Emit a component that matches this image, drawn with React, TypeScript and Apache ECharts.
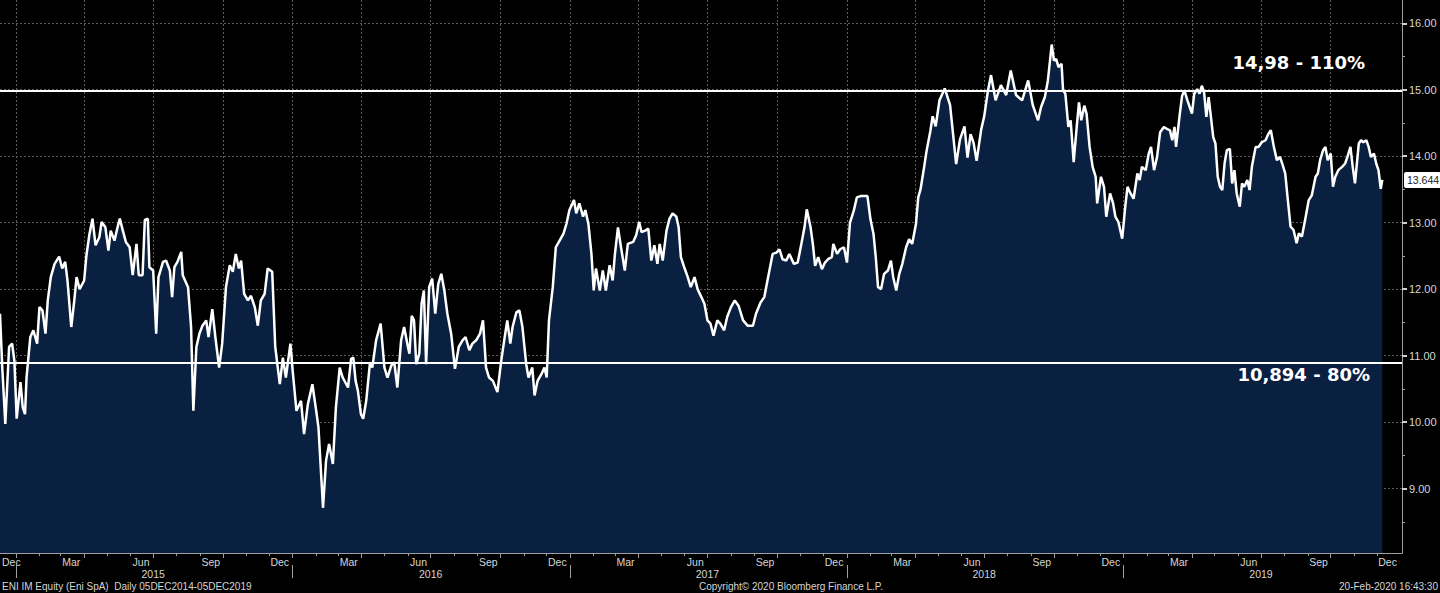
import React, { useEffect, useRef } from 'react';
import * as echarts from 'echarts';

// ---- Data ----
const px2014: [string, number][] = [
  ['2014-12-11', 11.63], ['2014-12-14', 10.82], ['2014-12-18', 9.97], ['2014-12-23', 11.13],
  ['2014-12-27', 11.18], ['2014-12-30', 10.92],
];
const px2015: [string, number][] = [
  ['2015-01-02', 10.05], ['2015-01-07', 10.6], ['2015-01-10', 10.22], ['2015-01-13', 10.12],
  ['2015-01-15', 10.67], ['2015-01-20', 11.28], ['2015-01-24', 11.38], ['2015-01-29', 11.18],
  ['2015-02-01', 11.73], ['2015-02-05', 11.68], ['2015-02-09', 11.33], ['2015-02-12', 11.83],
  ['2015-02-16', 12.18], ['2015-02-21', 12.38], ['2015-02-27', 12.49], ['2015-03-03', 12.31],
  ['2015-03-07', 12.41], ['2015-03-10', 12.13], ['2015-03-15', 11.43], ['2015-03-19', 11.83],
  ['2015-03-22', 12.18], ['2015-03-26', 12.0], ['2015-04-01', 12.13], ['2015-04-04', 12.51],
  ['2015-04-08', 12.83], ['2015-04-12', 13.06], ['2015-04-16', 12.66], ['2015-04-21', 12.78],
  ['2015-04-24', 13.01], ['2015-04-29', 12.93], ['2015-05-03', 12.58], ['2015-05-06', 12.88],
  ['2015-05-11', 12.73], ['2015-05-15', 12.93], ['2015-05-18', 13.06], ['2015-05-22', 12.88],
  ['2015-05-26', 12.71], ['2015-05-31', 12.63], ['2015-06-04', 12.21], ['2015-06-09', 12.68],
  ['2015-06-12', 12.21], ['2015-06-17', 12.21], ['2015-06-20', 13.04], ['2015-06-24', 13.06],
  ['2015-06-26', 12.33], ['2015-07-01', 12.28], ['2015-07-05', 11.33], ['2015-07-08', 12.18],
  ['2015-07-14', 12.41], ['2015-07-18', 12.43], ['2015-07-23', 12.28], ['2015-07-26', 11.88],
  ['2015-07-29', 12.33], ['2015-08-02', 12.41], ['2015-08-07', 12.56], ['2015-08-09', 12.21],
  ['2015-08-16', 12.03], ['2015-08-20', 11.43], ['2015-08-23', 10.17], ['2015-08-27', 11.13],
  ['2015-08-31', 11.33], ['2015-09-04', 11.45], ['2015-09-09', 11.53], ['2015-09-12', 11.28],
  ['2015-09-17', 11.7], ['2015-09-21', 11.28], ['2015-09-26', 10.82], ['2015-09-30', 11.18],
  ['2015-10-05', 12.03], ['2015-10-10', 12.36], ['2015-10-14', 12.26], ['2015-10-18', 12.53],
  ['2015-10-22', 12.31], ['2015-10-25', 12.43], ['2015-10-29', 11.93], ['2015-11-03', 11.83],
  ['2015-11-07', 11.9], ['2015-11-12', 11.73], ['2015-11-16', 11.45], ['2015-11-20', 11.83],
  ['2015-11-25', 11.93], ['2015-11-29', 12.31], ['2015-12-05', 12.26], ['2015-12-09', 11.13],
  ['2015-12-15', 10.57], ['2015-12-19', 10.97], ['2015-12-23', 10.67], ['2015-12-29', 11.18],
];
const px2016: [string, number][] = [
  ['2016-01-01', 10.77], ['2016-01-06', 10.17], ['2016-01-12', 10.32], ['2016-01-16', 9.82],
  ['2016-01-21', 10.27], ['2016-01-27', 10.57], ['2016-02-01', 10.17], ['2016-02-04', 9.92],
  ['2016-02-10', 8.71], ['2016-02-14', 9.42], ['2016-02-18', 9.67], ['2016-02-23', 9.37],
  ['2016-02-27', 10.22], ['2016-03-03', 10.82], ['2016-03-07', 10.67], ['2016-03-14', 10.52],
  ['2016-03-18', 10.95], ['2016-03-21', 10.97], ['2016-03-24', 10.62], ['2016-03-27', 10.47],
  ['2016-03-31', 10.12], ['2016-04-03', 10.05], ['2016-04-07', 10.32], ['2016-04-12', 10.9],
  ['2016-04-15', 10.82], ['2016-04-20', 11.23], ['2016-04-26', 11.48], ['2016-05-01', 10.82],
  ['2016-05-05', 10.67], ['2016-05-10', 10.85], ['2016-05-14', 10.9], ['2016-05-18', 10.52],
  ['2016-05-23', 11.23], ['2016-05-27', 11.43], ['2016-06-01', 11.13], ['2016-06-03', 11.03],
  ['2016-06-06', 11.6], ['2016-06-09', 11.53], ['2016-06-12', 10.87], ['2016-06-16', 11.03],
  ['2016-06-19', 11.78], ['2016-06-22', 11.98], ['2016-06-25', 10.87], ['2016-06-29', 12.03],
  ['2016-07-03', 12.16], ['2016-07-07', 11.63], ['2016-07-11', 12.08], ['2016-07-15', 12.23],
  ['2016-07-19', 11.98], ['2016-07-23', 11.63], ['2016-07-28', 11.33], ['2016-08-02', 10.8],
  ['2016-08-07', 11.13], ['2016-08-12', 11.23], ['2016-08-16', 11.28], ['2016-08-21', 11.08],
  ['2016-08-25', 11.18], ['2016-08-30', 11.23], ['2016-09-04', 11.33], ['2016-09-08', 11.53],
  ['2016-09-12', 10.82], ['2016-09-16', 10.67], ['2016-09-21', 10.62], ['2016-09-27', 10.45],
  ['2016-10-02', 10.92], ['2016-10-06', 11.23], ['2016-10-10', 11.53], ['2016-10-14', 11.18],
  ['2016-10-17', 11.43], ['2016-10-22', 11.65], ['2016-10-26', 11.68], ['2016-10-30', 11.43],
  ['2016-11-04', 10.87], ['2016-11-07', 10.67], ['2016-11-12', 10.82], ['2016-11-15', 10.4],
  ['2016-11-19', 10.62], ['2016-11-24', 10.72], ['2016-11-28', 10.82], ['2016-12-01', 10.67],
  ['2016-12-04', 11.53], ['2016-12-09', 12.03], ['2016-12-13', 12.63], ['2016-12-18', 12.73],
  ['2016-12-23', 12.83], ['2016-12-27', 12.98], ['2016-12-31', 13.19],
];
const px2017: [string, number][] = [
  ['2017-01-06', 13.34], ['2017-01-09', 13.14], ['2017-01-13', 13.29], ['2017-01-18', 13.09],
  ['2017-01-21', 13.19], ['2017-01-25', 12.98], ['2017-01-29', 12.53], ['2017-02-01', 11.98],
  ['2017-02-04', 12.31], ['2017-02-09', 11.98], ['2017-02-13', 12.28], ['2017-02-17', 11.98],
  ['2017-02-22', 12.36], ['2017-02-26', 12.13], ['2017-03-01', 12.53], ['2017-03-05', 12.93],
  ['2017-03-09', 12.63], ['2017-03-14', 12.28], ['2017-03-18', 12.68], ['2017-03-25', 12.71],
  ['2017-03-29', 12.81], ['2017-04-02', 13.01], ['2017-04-05', 12.86], ['2017-04-10', 12.88],
  ['2017-04-14', 12.91], ['2017-04-18', 12.43], ['2017-04-22', 12.66], ['2017-04-26', 12.38],
  ['2017-04-29', 12.68], ['2017-05-03', 12.43], ['2017-05-08', 12.88], ['2017-05-12', 13.06],
  ['2017-05-16', 13.14], ['2017-05-21', 13.09], ['2017-05-24', 12.93], ['2017-05-27', 12.48],
  ['2017-06-01', 12.31], ['2017-06-05', 12.18], ['2017-06-09', 12.03], ['2017-06-14', 12.18],
  ['2017-06-18', 12.0], ['2017-06-23', 11.88], ['2017-06-27', 11.78], ['2017-07-01', 11.53],
  ['2017-07-05', 11.48], ['2017-07-09', 11.3], ['2017-07-14', 11.53], ['2017-07-18', 11.48],
  ['2017-07-23', 11.38], ['2017-07-27', 11.58], ['2017-08-01', 11.73], ['2017-08-06', 11.83],
  ['2017-08-11', 11.75], ['2017-08-17', 11.53], ['2017-08-23', 11.45], ['2017-08-30', 11.45],
  ['2017-09-03', 11.63], ['2017-09-09', 11.8], ['2017-09-14', 11.88], ['2017-09-19', 12.18],
  ['2017-09-25', 12.53], ['2017-09-30', 12.55], ['2017-10-04', 12.6], ['2017-10-08', 12.45],
  ['2017-10-13', 12.43], ['2017-10-17', 12.53], ['2017-10-23', 12.38], ['2017-10-28', 12.4],
  ['2017-11-01', 12.63], ['2017-11-06', 12.93], ['2017-11-09', 13.2], ['2017-11-14', 12.93],
  ['2017-11-17', 12.68], ['2017-11-20', 12.35], ['2017-11-24', 12.48], ['2017-11-29', 12.3],
  ['2017-12-03', 12.4], ['2017-12-07', 12.45], ['2017-12-12', 12.48], ['2017-12-14', 12.68],
  ['2017-12-19', 12.53], ['2017-12-23', 12.6], ['2017-12-28', 12.63],
];
const px2018: [string, number][] = [
  ['2018-01-01', 12.4], ['2018-01-05', 13.0], ['2018-01-10', 13.18], ['2018-01-14', 13.38],
  ['2018-01-19', 13.4], ['2018-01-24', 13.4], ['2018-01-28', 13.4], ['2018-02-01', 13.05],
  ['2018-02-05', 12.83], ['2018-02-08', 12.48], ['2018-02-11', 12.03], ['2018-02-15', 12.0],
  ['2018-02-19', 12.23], ['2018-02-24', 12.28], ['2018-02-28', 12.43], ['2018-03-03', 12.18],
  ['2018-03-07', 11.98], ['2018-03-11', 12.23], ['2018-03-15', 12.38], ['2018-03-20', 12.63],
  ['2018-03-24', 12.75], ['2018-03-28', 12.68], ['2018-04-02', 12.98], ['2018-04-05', 13.38],
  ['2018-04-08', 13.5], ['2018-04-12', 13.78], ['2018-04-16', 14.08], ['2018-04-21', 14.38],
  ['2018-04-24', 14.6], ['2018-04-28', 14.45], ['2018-05-03', 14.84], ['2018-05-10', 15.02],
  ['2018-05-17', 14.77], ['2018-05-25', 13.88], ['2018-05-30', 14.25], ['2018-06-05', 14.45],
  ['2018-06-09', 13.98], ['2018-06-13', 14.33], ['2018-06-17', 14.2], ['2018-06-21', 13.93],
  ['2018-06-27', 14.4], ['2018-07-01', 14.6], ['2018-07-06', 14.99], ['2018-07-10', 15.22],
  ['2018-07-16', 14.84], ['2018-07-23', 15.07], ['2018-07-30', 14.92], ['2018-08-05', 15.29],
  ['2018-08-12', 14.92], ['2018-08-20', 14.84], ['2018-08-28', 15.14], ['2018-09-03', 14.77],
  ['2018-09-10', 14.54], ['2018-09-14', 14.74], ['2018-09-19', 14.89], ['2018-09-23', 15.14],
  ['2018-09-28', 15.68], ['2018-10-01', 15.44], ['2018-10-04', 15.46], ['2018-10-07', 15.34],
  ['2018-10-11', 15.39], ['2018-10-13', 14.99], ['2018-10-16', 14.94], ['2018-10-20', 14.44],
  ['2018-10-23', 14.54], ['2018-10-27', 13.91], ['2018-10-31', 14.44], ['2018-11-03', 14.81],
  ['2018-11-06', 14.54], ['2018-11-10', 14.76], ['2018-11-13', 14.64], ['2018-11-17', 14.14],
  ['2018-11-21', 13.84], ['2018-11-25', 13.69], ['2018-11-27', 13.29], ['2018-12-02', 13.69],
  ['2018-12-06', 13.54], ['2018-12-09', 13.09], ['2018-12-14', 13.44], ['2018-12-18', 13.29],
  ['2018-12-21', 13.09], ['2018-12-25', 13.01], ['2018-12-30', 12.76],
];
const px2019: [string, number][] = [
  ['2019-01-03', 13.24], ['2019-01-06', 13.54], ['2019-01-10', 13.44], ['2019-01-14', 13.36],
  ['2019-01-19', 13.74], ['2019-01-22', 13.64], ['2019-01-25', 13.84], ['2019-01-30', 13.79],
  ['2019-02-03', 14.04], ['2019-02-06', 14.14], ['2019-02-10', 13.79], ['2019-02-14', 13.99],
  ['2019-02-18', 14.36], ['2019-02-23', 14.44], ['2019-02-27', 14.41], ['2019-03-03', 14.39],
  ['2019-03-06', 14.24], ['2019-03-09', 14.44], ['2019-03-11', 14.14], ['2019-03-16', 14.64],
  ['2019-03-19', 14.91], ['2019-03-22', 14.99], ['2019-03-26', 14.84], ['2019-03-29', 14.74],
  ['2019-04-01', 14.64], ['2019-04-04', 14.94], ['2019-04-08', 15.01], ['2019-04-11', 14.94],
  ['2019-04-14', 15.06], ['2019-04-17', 14.96], ['2019-04-20', 14.59], ['2019-04-23', 14.89],
  ['2019-04-26', 14.59], ['2019-04-29', 14.29], ['2019-05-02', 14.19], ['2019-05-05', 13.69],
  ['2019-05-08', 13.54], ['2019-05-11', 13.49], ['2019-05-14', 13.89], ['2019-05-17', 14.09],
  ['2019-05-21', 14.11], ['2019-05-24', 13.59], ['2019-05-27', 13.79], ['2019-05-30', 13.44],
  ['2019-06-03', 13.24], ['2019-06-06', 13.59], ['2019-06-09', 13.54], ['2019-06-13', 13.64],
  ['2019-06-16', 13.49], ['2019-06-19', 13.84], ['2019-06-24', 14.14], ['2019-06-28', 14.14],
  ['2019-07-02', 14.21], ['2019-07-07', 14.24], ['2019-07-11', 14.34], ['2019-07-14', 14.39],
  ['2019-07-18', 14.14], ['2019-07-22', 13.94], ['2019-07-26', 13.99], ['2019-07-29', 13.89],
  ['2019-08-02', 13.74], ['2019-08-05', 13.39], ['2019-08-09', 12.94], ['2019-08-13', 12.89],
  ['2019-08-17', 12.69], ['2019-08-20', 12.84], ['2019-08-24', 12.79], ['2019-08-29', 13.09],
  ['2019-09-02', 13.34], ['2019-09-06', 13.41], ['2019-09-11', 13.69], ['2019-09-14', 13.74],
  ['2019-09-17', 13.94], ['2019-09-21', 14.09], ['2019-09-24', 14.14], ['2019-09-27', 13.94],
  ['2019-10-01', 14.04], ['2019-10-04', 13.54], ['2019-10-07', 13.69], ['2019-10-11', 13.79],
  ['2019-10-16', 13.84], ['2019-10-20', 13.89], ['2019-10-23', 13.99], ['2019-10-27', 14.14],
  ['2019-10-30', 13.84], ['2019-11-02', 13.59], ['2019-11-07', 14.19], ['2019-11-10', 14.24],
  ['2019-11-13', 14.21], ['2019-11-17', 14.24], ['2019-11-20', 14.14], ['2019-11-23', 13.99],
  ['2019-11-27', 14.04], ['2019-11-30', 13.89], ['2019-12-03', 13.79], ['2019-12-06', 13.51],
  ['2019-12-08', 13.644],
];

const upperLevel = 14.98;
const upperText = '14,98 - 110%';
const lowerLevel = 10.894;
const lowerText = '10,894 - 80%';
const lastPrice = 13.644;

const xMin = '2014-12-11';
const xMax = '2020-01-03';
const yMin = 8.03;
const yMax = 16.35;

const yTicks = [9, 10, 11, 12, 13, 14, 15, 16];
const yMinorTicks = [8.5, 9.5, 10.5, 11.5, 12.5, 13.5, 14.5, 15.5];

const quarterTicks = [
  '2015-01-01', '2015-04-01', '2015-07-01', '2015-10-01',
  '2016-01-01', '2016-04-01', '2016-07-01', '2016-10-01',
  '2017-01-01', '2017-04-01', '2017-07-01', '2017-10-01',
  '2018-01-01', '2018-04-01', '2018-07-01', '2018-10-01',
  '2019-01-01', '2019-04-01', '2019-07-01', '2019-10-01',
];
const monthLabelDates = [
  '2014-12-26',
  '2015-03-15', '2015-06-15', '2015-09-15', '2015-12-15',
  '2016-03-15', '2016-06-15', '2016-09-15', '2016-12-15',
  '2017-03-15', '2017-06-15', '2017-09-15', '2017-12-15',
  '2018-03-15', '2018-06-15', '2018-09-15', '2018-12-15',
  '2019-03-15', '2019-06-15', '2019-09-15', '2019-12-15',
];
const yearTicks = ['2015-01-01', '2016-01-01', '2017-01-01', '2018-01-01', '2019-01-01'];
const yearLabelDates = ['2015-07-01', '2016-07-01', '2017-07-01', '2018-07-01', '2019-07-01'];
const MONTHS = ['Jan', 'Feb', 'Mar', 'Apr', 'May', 'Jun', 'Jul', 'Aug', 'Sep', 'Oct', 'Nov', 'Dec'];

const monthTicks: string[] = [];
for (let y = 2015; y <= 2019; y++) {
  for (let m = 1; m <= 12; m++) monthTicks.push(`${y}-${String(m).padStart(2, '0')}-01`);
}

const footerLeft = 'ENI IM Equity (Eni SpA)  Daily 05DEC2014-05DEC2019';
const footerCenter = 'Copyright\u00A9 2020 Bloomberg Finance L.P.';
const footerRight = '20-Feb-2020 16:43:30';

const AXIS_COLOR = '#a0a0a0';
const LABEL_COLOR = '#d6d6d6';
const GRID_COLOR = '#5c5c5c';
const FONT = '"Liberation Sans", Arial, sans-serif';

// parse 'YYYY-MM-DD' to a local timestamp
const ts = (s: string) => {
  const [y, m, d] = s.split('-').map(Number);
  return new Date(y, m - 1, d).getTime();
};
const tsList = (arr: string[]) => arr.map(ts);

export default function App() {
  const ref = useRef<HTMLDivElement>(null);

  useEffect(() => {
    if (!ref.current) return;
    const chart = echarts.init(ref.current, null, { renderer: 'svg' });
    const series = [...px2014, ...px2015, ...px2016, ...px2017, ...px2018, ...px2019].map(
      ([d, v]) => [ts(d), v]
    );
    const xRange = { min: ts(xMin), max: ts(xMax) };

    chart.setOption({
      animation: false,
      backgroundColor: '#000000',
      textStyle: { fontFamily: FONT },
      grid: { left: 0, right: 38, top: 0, bottom: 40, outerBoundsMode: 'none' },
      xAxis: [
        {
          type: 'value', ...xRange, position: 'bottom', scale: true,
          axisLine: { show: true, onZero: false, lineStyle: { color: AXIS_COLOR, width: 1 } },
          axisTick: { show: true, customValues: tsList(quarterTicks), length: 5, lineStyle: { color: AXIS_COLOR } },
          axisLabel: {
            customValues: tsList(monthLabelDates),
            formatter: (v: number) => MONTHS[new Date(v).getMonth()],
            color: LABEL_COLOR, fontSize: 10.5, margin: 3, fontFamily: FONT,
          },
          splitLine: { show: true, lineStyle: { color: GRID_COLOR, type: [2, 2], width: 1 } },
        },
        {
          type: 'value', ...xRange, position: 'bottom', scale: true,
          axisLine: { show: false, onZero: false },
          axisTick: { show: true, customValues: tsList(monthTicks), length: 3, lineStyle: { color: AXIS_COLOR } },
          axisLabel: { show: false },
          splitLine: { show: false },
        },
        {
          type: 'value', ...xRange, position: 'bottom', offset: 12, scale: true,
          axisLine: { show: false, onZero: false },
          axisTick: { show: true, customValues: tsList(yearTicks), length: 13, lineStyle: { color: AXIS_COLOR } },
          axisLabel: {
            customValues: tsList(yearLabelDates),
            formatter: (v: number) => String(new Date(v).getFullYear()),
            color: LABEL_COLOR, fontSize: 10.5, margin: 3, fontFamily: FONT,
          },
          splitLine: { show: false },
        },
      ],
      yAxis: [
        {
          type: 'value', position: 'right', min: yMin, max: yMax, scale: true,
          axisLine: { show: true, onZero: false, lineStyle: { color: AXIS_COLOR, width: 1 } },
          axisTick: { show: true, customValues: yTicks, length: 5, lineStyle: { color: '#d0d0d0', width: 2 } },
          axisLabel: {
            customValues: yTicks,
            formatter: (v: number) => v.toFixed(2),
            color: LABEL_COLOR, fontSize: 11, margin: 7, fontFamily: FONT,
          },
          splitLine: { show: true, lineStyle: { color: GRID_COLOR, type: [2, 2], width: 1 } },
        },
        {
          type: 'value', position: 'right', min: yMin, max: yMax, scale: true,
          axisLine: { show: false, onZero: false },
          axisTick: { show: true, customValues: yMinorTicks, length: 3, lineStyle: { color: AXIS_COLOR } },
          axisLabel: { show: false },
          splitLine: { show: false },
        },
      ],
      series: [
        {
          type: 'line',
          xAxisIndex: 0,
          yAxisIndex: 0,
          data: series,
          symbol: 'none',
          showSymbol: false,
          lineStyle: { color: '#ffffff', width: 2.5 },
          areaStyle: { color: '#0a2040', opacity: 1, origin: 'start' },
          z: 3,
          markLine: {
            silent: true,
            symbol: 'none',
            animation: false,
            data: [
              {
                yAxis: upperLevel,
                lineStyle: { color: '#ffffff', width: 2, type: 'solid' },
                label: {
                  show: true, formatter: upperText, position: 'insideEndTop', distance: [37, 20],
                  color: '#ffffff', fontSize: 18, fontWeight: 'bold', fontFamily: '"DejaVu Sans", sans-serif',
                },
              },
              {
                yAxis: lowerLevel,
                lineStyle: { color: '#ffffff', width: 2, type: 'solid' },
                label: {
                  show: true, formatter: lowerText, position: 'insideEndBottom', distance: [32, 3],
                  color: '#ffffff', fontSize: 18, fontWeight: 'bold', fontFamily: '"DejaVu Sans", sans-serif',
                },
              },
              {
                yAxis: lastPrice,
                lineStyle: { color: 'rgba(0,0,0,0)', width: 1, type: 'solid' },
                label: {
                  show: true, formatter: lastPrice.toFixed(3), position: 'end', distance: 2,
                  backgroundColor: '#ffffff', color: '#222222', fontSize: 10.5, padding: [3, 2, 2, 3],
                  borderRadius: 2, fontFamily: FONT,
                },
              },
            ],
          },
        },
      ],
      graphic: [
        {
          type: 'text', x: 2, y: 586,
          style: { text: footerLeft, fill: LABEL_COLOR, font: `10px ${FONT}`, textVerticalAlign: 'middle' },
        },
        {
          type: 'text', x: 791, y: 586,
          style: { text: footerCenter, fill: LABEL_COLOR, font: `10px ${FONT}`, textAlign: 'center', textVerticalAlign: 'middle' },
        },
        {
          type: 'text', x: 1438, y: 586,
          style: { text: footerRight, fill: LABEL_COLOR, font: `10px ${FONT}`, textAlign: 'right', textVerticalAlign: 'middle' },
        },
      ],
    });

    return () => chart.dispose();
  }, []);

  return (
    <div
      ref={ref}
      style={{ position: 'absolute', left: 0, top: 0, width: 1440, height: 593, background: '#000' }}
    />
  );
}
